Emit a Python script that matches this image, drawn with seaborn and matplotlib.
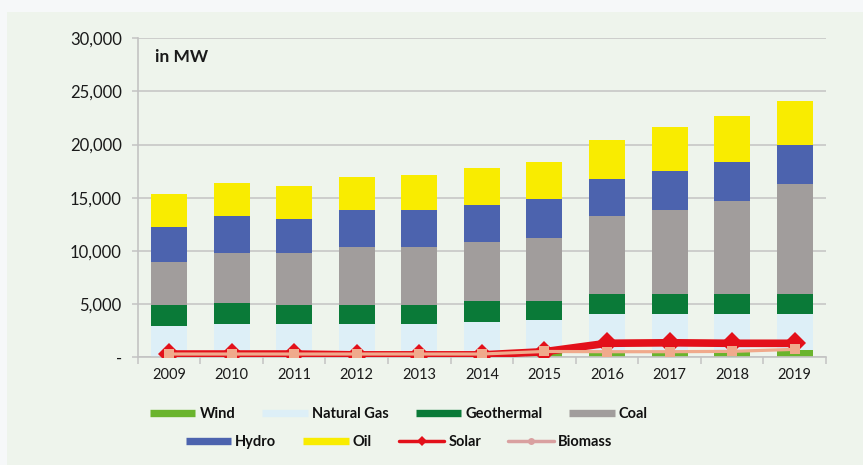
import numpy as np
import matplotlib
matplotlib.use("Agg")
import matplotlib.pyplot as plt
from matplotlib.lines import Line2D
from matplotlib.patches import Rectangle
from matplotlib.ticker import FuncFormatter
import seaborn as sns

years = ['2009', '2010', '2011', '2012', '2013', '2014', '2015', '2016', '2017', '2018', '2019']
wind = [30, 30, 30, 30, 30, 280, 430, 430, 430, 430, 680]
natural_gas = [2880, 3070, 3070, 3070, 3070, 3010, 3050, 3610, 3610, 3610, 3360]
geothermal = [1980, 1980, 1790, 1790, 1790, 1970, 1780, 1880, 1880, 1880, 1880]
coal = [4040, 4700, 4890, 5450, 5450, 5550, 5930, 7330, 7900, 8740, 10340]
hydro = [3290, 3470, 3190, 3480, 3480, 3480, 3660, 3480, 3660, 3670, 3670]
oil = [3100, 3110, 3100, 3100, 3290, 3480, 3480, 3670, 4140, 4320, 4130]
solar = [280, 280, 280, 200, 200, 200, 500, 1290, 1340, 1290, 1290]
biomass = [280, 280, 280, 280, 280, 280, 520, 500, 500, 530, 720]

bar_names = ['Wind', 'Natural Gas', 'Geothermal', 'Coal', 'Hydro', 'Oil']
bar_values = [wind, natural_gas, geothermal, coal, hydro, oil]
bar_colors = ['#6ab42d', '#ddeff7', '#0a7a38', '#a19d9c', '#4c63ae', '#f9ec00']
solar_color = '#e3101a'
biomass_color = '#f0aa8c'
biomass_legend_color = '#d9a0a0'

sns.set_style('white')
plt.rcParams['font.family'] = ['Lato', 'DejaVu Sans']

W, H = 863, 465
fig = plt.figure(figsize=(W / 100, H / 100), dpi=100)
fig.patch.set_facecolor('#f6f8f9')
fig.add_artist(Rectangle((7 / W, 0), 1, 1 - 12 / H, transform=fig.transFigure,
                         facecolor='#eef4ec', edgecolor='none', zorder=0))

ax = fig.add_axes([137.7 / W, 1 - 357 / H, (826 - 137.7) / W, (357 - 38.3) / H])
ax.set_facecolor('none')

cum = np.cumsum(np.array(bar_values, dtype=float), axis=0)
for i in range(len(bar_names) - 1, -1, -1):
    sns.barplot(x=years, y=cum[i], color=bar_colors[i], width=0.575, saturation=1,
                errorbar=None, linewidth=0, edgecolor='none', ax=ax, zorder=2)

xs = np.arange(len(years))
sns.lineplot(x=xs, y=solar, color=solar_color, lw=5.5, marker='D', markersize=11,
             markeredgewidth=0, legend=False, ax=ax, zorder=4)
sns.lineplot(x=xs, y=biomass, color=biomass_color, lw=2.3, marker='s', markersize=6.5,
             markeredgewidth=0, legend=False, ax=ax, zorder=5)

ax.set_xlim(-0.5, len(years) - 0.5)
ax.set_ylim(0, 30000)
ax.set_yticks(np.arange(0, 30001, 5000))
ax.yaxis.set_major_formatter(FuncFormatter(lambda v, p: '-' if v == 0 else f'{v:,.0f}'))
ax.set_xticks(xs)
ax.set_xticklabels(years)
ax.set_xticks(np.arange(-0.5, len(years), 1), minor=True)
ax.set_xlabel('')
ax.set_ylabel('')

grid_c = '#c3c3c3'
ax.yaxis.grid(True, color=grid_c, lw=1.1, zorder=0)
ax.xaxis.grid(False)
ax.set_axisbelow(True)
for s in ['top', 'right']:
    ax.spines[s].set_visible(False)
for s in ['left', 'bottom']:
    ax.spines[s].set_color(grid_c)
    ax.spines[s].set_linewidth(1.2)

ax.tick_params(axis='y', which='major', length=4.5, width=1.1, color=grid_c, pad=7,
               labelsize=12, labelcolor='#1a1a1a', left=True)
ax.tick_params(axis='x', which='major', length=0, pad=8, labelsize=10.5, labelcolor='#1a1a1a')
ax.tick_params(axis='x', which='minor', length=5, width=1.1, color=grid_c, bottom=True)

fig.text(155 / W, 1 - 57 / H, 'in MW', fontsize=12.5, fontweight='bold', color='#1a1a1a',
         va='center', ha='left')

def bar_handle(c):
    return Line2D([0], [0], color=c, lw=5.3, solid_capstyle='butt')

row1 = [bar_handle(c) for c in bar_colors[:4]]
row2 = [bar_handle(c) for c in bar_colors[4:]] + [
    Line2D([0], [0], color=solar_color, lw=2.5, marker='D', markersize=5, markeredgewidth=0),
    Line2D([0], [0], color=biomass_legend_color, lw=2.5, marker='o', markersize=5, markeredgewidth=0),
]
labels1 = bar_names[:4]
labels2 = bar_names[4:] + ['Solar', 'Biomass']
leg_kw = dict(loc='center', ncol=4, frameon=False, handlelength=3.1, handletextpad=0.3,
              columnspacing=1.85, prop=dict(weight='bold', size=10.5))
fig.legend(row1, labels1, bbox_to_anchor=(399 / W, 1 - 414 / H), labelcolor='#111111', **leg_kw)
fig.legend(row2, labels2, bbox_to_anchor=(399 / W, 1 - 442 / H), labelcolor='#111111', **leg_kw)

fig.savefig('out.png', dpi=100, facecolor=fig.get_facecolor())
